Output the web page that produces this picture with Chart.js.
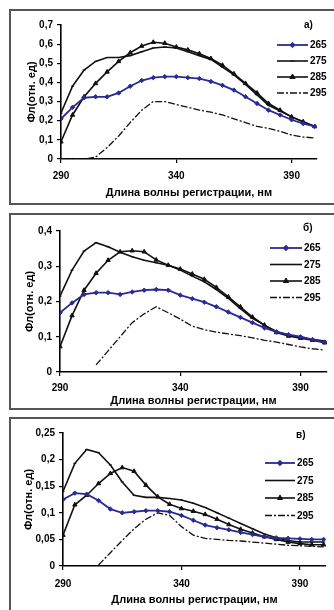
<!DOCTYPE html>
<html><head><meta charset="utf-8">
<script src="https://cdn.jsdelivr.net/npm/chart.js@4.4.0/dist/chart.umd.min.js"></script>
<style>
html,body{margin:0;padding:0;background:#fff;width:334px;height:610px;overflow:hidden;position:relative}
.panel{position:absolute;left:9px;width:345px;border:2px solid #555;box-sizing:border-box}
.cv{position:absolute;left:0}
.lbl{position:absolute;font:bold 10px 'Liberation Sans',Arial,sans-serif;color:#000;line-height:12px}
</style></head><body>
<div class="panel" style="top:9px;height:196px"></div>
<div class="panel" style="top:213px;height:197px"></div>
<div class="panel" style="top:417px;height:210px"></div>
<canvas id="c1" class="cv" style="top:9px;width:334px;height:195px" width="334" height="195"></canvas>
<canvas id="c2" class="cv" style="top:213px;width:334px;height:196px" width="334" height="196"></canvas>
<canvas id="c3" class="cv" style="top:417px;width:334px;height:194px" width="334" height="194"></canvas>
<div class="lbl" style="left:304px;top:19px">а)</div>
<div class="lbl" style="left:303px;top:222px">б)</div>
<div class="lbl" style="left:296px;top:429px">в)</div>
<script>
// ---- data ----
const wavelengths = [290,295,300,305,310,315,320,325,330,335,340,345,350,355,360,365,370,375,380,385,390,395,400];
const seriesNames = ['265','275','285','295'];
const xTicks = [290,340,390];
const yTicksA = [0,0.1,0.2,0.3,0.4,0.5,0.6,0.7];
const yTicksB = [0,0.1,0.2,0.3,0.4];
const yTicksC = [0,0.05,0.1,0.15,0.2,0.25];

const a265 = [0.21,0.27,0.32,0.325,0.325,0.345,0.38,0.41,0.425,0.43,0.43,0.425,0.42,0.405,0.385,0.36,0.325,0.29,0.255,0.23,0.205,0.185,0.17];
const a275 = [0.24,0.38,0.465,0.51,0.53,0.53,0.54,0.56,0.58,0.585,0.58,0.56,0.54,0.52,0.48,0.44,0.39,0.335,0.28,0.25,0.22,0.195,0.17];
const a285 = [0.09,0.23,0.325,0.395,0.455,0.51,0.555,0.59,0.61,0.605,0.585,0.57,0.55,0.525,0.49,0.445,0.395,0.345,0.29,0.255,0.22,0.195,0.17];
const a295 = [0,0,0,0.01,0.06,0.12,0.19,0.255,0.3,0.3,0.285,0.27,0.255,0.245,0.23,0.21,0.19,0.17,0.16,0.145,0.125,0.115,0.11];

const b265 = [0.168,0.196,0.22,0.225,0.225,0.22,0.227,0.232,0.234,0.232,0.218,0.208,0.198,0.185,0.17,0.155,0.14,0.125,0.114,0.106,0.1,0.092,0.085];
const b275 = [0.215,0.289,0.343,0.367,0.355,0.34,0.327,0.317,0.31,0.303,0.289,0.272,0.256,0.234,0.209,0.18,0.152,0.133,0.115,0.105,0.098,0.093,0.088];
const b285 = [0.072,0.16,0.232,0.28,0.317,0.341,0.344,0.341,0.318,0.303,0.292,0.278,0.263,0.24,0.213,0.185,0.156,0.133,0.112,0.102,0.096,0.09,0.083];
const b295 = [null,null,null,0.02,0.06,0.1,0.14,0.165,0.185,0.168,0.15,0.13,0.12,0.113,0.108,0.103,0.097,0.09,0.085,0.078,0.071,0.066,0.062];

const c265 = [0.125,0.137,0.135,0.123,0.107,0.1,0.102,0.104,0.104,0.102,0.095,0.086,0.077,0.072,0.068,0.063,0.059,0.055,0.053,0.052,0.051,0.05,0.05];
const c275 = [0.14,0.193,0.219,0.213,0.19,0.158,0.133,0.129,0.129,0.127,0.124,0.118,0.11,0.1,0.09,0.08,0.07,0.06,0.053,0.048,0.045,0.045,0.045];
const c285 = [0.058,0.115,0.133,0.155,0.174,0.185,0.178,0.152,0.13,0.116,0.108,0.103,0.097,0.088,0.078,0.069,0.062,0.055,0.05,0.045,0.042,0.04,0.04];
const c295 = [null,null,null,0.002,0.025,0.048,0.07,0.088,0.1,0.095,0.074,0.058,0.052,0.05,0.048,0.047,0.045,0.043,0.041,0.039,0.038,0.037,0.036];

// ---- styling ----
const FONT = "'Liberation Sans', Arial, sans-serif";
const BLUE = '#2a2a94';
function mk(vals){ return wavelengths.map((x,i)=>({x:x,y:vals[i]})); }
function datasets(s265,s275,s285,s295){
  return [
    {label:seriesNames[0],data:mk(s265),borderColor:BLUE,backgroundColor:BLUE,borderWidth:1.8,pointStyle:'rectRot',pointRadius:2.2,pointBackgroundColor:BLUE,pointBorderColor:BLUE,pointBorderWidth:1},
    {label:seriesNames[1],data:mk(s275),borderColor:'#111',backgroundColor:'#111',borderWidth:1.6,pointStyle:'line',pointRadius:1.5,pointBackgroundColor:'#111',pointBorderColor:'#111',pointBorderWidth:1},
    {label:seriesNames[2],data:mk(s285),borderColor:'#111',backgroundColor:'#111',borderWidth:1.6,pointStyle:'triangle',pointRadius:2.5,pointBackgroundColor:'#111',pointBorderColor:'#111',pointBorderWidth:1},
    {label:seriesNames[3],data:mk(s295),borderColor:'#111',backgroundColor:'#111',borderWidth:1.3,borderDash:[7,2,2,2],pointRadius:0,spanGaps:false}
  ];
}
const legendPlugin = {
  id:'customLegend',
  afterDraw(chart, args, o){
    const ctx = chart.ctx;
    chart.data.datasets.forEach((ds,i)=>{
      const y = o.y + i*o.gap;
      ctx.save();
      ctx.strokeStyle = ds.borderColor; ctx.lineWidth = ds.borderWidth;
      ctx.setLineDash(ds.borderDash||[]);
      ctx.beginPath(); ctx.moveTo(o.x,y); ctx.lineTo(o.x+o.len,y); ctx.stroke();
      ctx.setLineDash([]);
      if (ds.pointRadius>0){
        ctx.fillStyle = ds.pointBackgroundColor; ctx.strokeStyle = ds.pointBorderColor; ctx.lineWidth = 1;
        Chart.helpers.drawPoint(ctx,{pointStyle:ds.pointStyle,radius:ds.pointRadius+0.5,borderWidth:1,rotation:0},o.x+o.len/2,y);
      }
      ctx.fillStyle='#000'; ctx.font='bold 10px '+FONT; ctx.textBaseline='middle'; ctx.textAlign='left';
      ctx.fillText(ds.label,o.x+o.len+2,y+0.5);
      ctx.restore();
    });
  }
};
function fmt(v){ return String(v).replace('.',','); }
function makeChart(id, ds, yTicks, yMax, g){
  new Chart(document.getElementById(id),{
    type:'line',
    data:{datasets:ds},
    plugins:[legendPlugin],
    options:{
      responsive:false, devicePixelRatio:1, animation:false,
      layout:{padding:{left:0,right:g.right,top:g.top,bottom:0}},
      elements:{line:{tension:0}},
      plugins:{legend:{display:false},tooltip:{enabled:false},
        customLegend:{x:g.lx,y:g.ly,gap:g.lgap,len:g.llen}},
      scales:{
        x:{type:'linear',min:290,max:401,
          afterFit(s){ s.height = g.xh; },
          afterBuildTicks(s){ s.ticks = xTicks.map(v=>({value:v})); },
          grid:{display:true,drawOnChartArea:false,drawTicks:true,tickLength:4,color:'#000',lineWidth:1.2},
          border:{display:true,color:'#000',width:1.6},
          ticks:{color:'#000',font:{family:FONT,size:10,weight:'bold'},padding:g.xpad,maxRotation:0,callback:v=>String(v)},
          title:{display:true,text:'Длина волны регистрации, нм',color:'#000',font:{family:FONT,size:11,weight:'bold'},padding:{top:0,bottom:g.xtb}}
        },
        y:{type:'linear',min:0,max:yMax,
          afterFit(s){ s.width = g.left; },
          afterBuildTicks(s){ s.ticks = yTicks.map(v=>({value:v})); },
          grid:{display:true,drawOnChartArea:false,drawTicks:true,tickLength:4,color:'#000',lineWidth:1.2},
          border:{display:true,color:'#000',width:1.6},
          ticks:{color:'#000',font:{family:FONT,size:10,weight:'bold'},padding:4,callback:v=>fmt(v)},
          title:{display:true,text:'Фл(отн. ед)',color:'#000',font:{family:FONT,size:11,weight:'bold'},padding:{top:g.ytp,bottom:0}}
        }
      }
    }
  });
}
makeChart('c1', datasets(a265,a275,a285,a295), yTicksA, 0.7,
  {left:61,right:17,top:16,xh:45,xpad:7,xtb:4,ytp:25,lx:277,ly:36,lgap:16,llen:31});
makeChart('c2', datasets(b265,b275,b285,b295), yTicksB, 0.4,
  {left:60,right:7,top:18,xh:37,xpad:6,xtb:1.5,ytp:23,lx:270,ly:35,lgap:16.5,llen:32});
makeChart('c3', datasets(c265,c275,c285,c295), yTicksC, 0.25,
  {left:63,right:8,top:16,xh:45,xpad:8,xtb:4,ytp:22,lx:265,ly:46,lgap:17.5,llen:30});
</script>
</body></html>
